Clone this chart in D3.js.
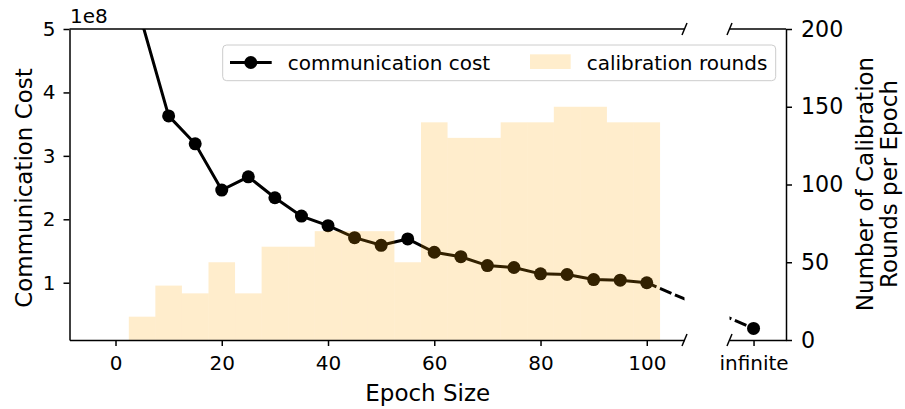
<!DOCTYPE html>
<html>
<head>
<meta charset="utf-8">
<script src="https://cdn.jsdelivr.net/npm/d3@7"></script>
<style>
    body { margin: 0; background: #fff; }
    svg, svg text { font-family: "DejaVu Sans", sans-serif; }
    .axis path, .axis line { stroke: #000; stroke-width: 1.5; }
    .axis text { fill: #000; font-family: "DejaVu Sans", sans-serif; }
</style>
</head>
<body>
<svg id="graph" width="905" height="409"></svg>
<script>

//data
const epochSizes = [5, 10, 15, 20, 25, 30, 35, 40, 45, 50, 55, 60, 65, 70, 75, 80, 85, 90, 95, 100];
const commCost = [5.1e8, 3.63e8, 3.19e8, 2.46e8, 2.67e8, 2.34e8, 2.05e8, 1.90e8, 1.71e8, 1.59e8,
                  1.69e8, 1.48e8, 1.41e8, 1.27e8, 1.24e8, 1.14e8, 1.13e8, 1.05e8, 1.04e8, 1.00e8];
const calibRounds = [15, 35, 30, 50, 30, 60, 60, 70, 70, 70, 50, 140, 130, 130, 140, 140, 150, 150, 140, 140];
const infiniteCost = 0.28e8;
const binWidth = 5;

const costTicks = [1e8, 2e8, 3e8, 4e8, 5e8];
const roundTicks = [0, 50, 100, 150, 200];
const epochTicks = [0, 20, 40, 60, 80, 100];
const infiniteLabel = "infinite";

//plot frame
let plotLeft = 69.5, breakL = 684.5, breakR = 729.5, plotRight = 786;
let plotTop = 29, plotBottom = 340;

let svg = d3.select("#graph");

let x = d3.scaleLinear().domain([-8.66, 107.1]).range([plotLeft, breakL]);
let xInf = d3.scaleLinear().domain([-1, 1.35]).range([breakR, plotRight]);
let yCost = d3.scaleLinear().domain([0.097e8, 5e8]).range([plotBottom, plotTop]);
let yRounds = d3.scaleLinear().domain([0, 200]).range([plotBottom, plotTop]);

//clip paths for the two halves of the broken axis
let defs = svg.append("defs");
defs.append("clipPath").attr("id", "clipLeft")
    .append("rect")
    .attr("x", plotLeft).attr("y", plotTop)
    .attr("width", breakL - plotLeft).attr("height", plotBottom - plotTop);

let both = defs.append("clipPath").attr("id", "clipBoth");
both.append("rect")
    .attr("x", plotLeft).attr("y", plotTop)
    .attr("width", breakL - plotLeft).attr("height", plotBottom - plotTop);
both.append("rect")
    .attr("x", breakR).attr("y", plotTop)
    .attr("width", plotRight - breakR).attr("height", plotBottom - plotTop);

drawCostLine();
drawRoundBars();
drawAxes();
drawLegend();
drawLabels();

function drawCostLine()
{
    let points = epochSizes.map((e, i) => [x(e), yCost(commCost[i])]);
    let lineGenerator = d3.line();

    let g = svg.append("g").attr("clip-path", "url(#clipLeft)");

    g.append("path")
    .attr("d", lineGenerator(points))
    .attr("fill", "none")
    .attr("stroke", "#000")
    .attr("stroke-width", 3);

    g.selectAll()
    .data(points)
    .enter()
    .append("circle")
    .attr("cx", d => d[0])
    .attr("cy", d => d[1])
    .attr("r", 6.5)
    .attr("fill", "#000");

    //dashed link from last epoch to the "infinite" point
    let last = epochSizes.length - 1;
    let link = [[x(epochSizes[last]), yCost(commCost[last])], [xInf(0), yCost(infiniteCost)]];

    svg.append("path")
    .attr("clip-path", "url(#clipBoth)")
    .attr("d", lineGenerator(link))
    .attr("fill", "none")
    .attr("stroke", "#000")
    .attr("stroke-width", 3)
    .attr("stroke-dasharray", "12.5,3.8")
    .attr("stroke-dashoffset", 2);

    svg.append("circle")
    .attr("cx", xInf(0))
    .attr("cy", yCost(infiniteCost))
    .attr("r", 6.5)
    .attr("fill", "#000");
}

function drawRoundBars()
{
    svg.append("g")
    .attr("clip-path", "url(#clipLeft)")
    .selectAll()
    .data(epochSizes)
    .enter()
    .append("rect")
    .attr("x", d => x(d - binWidth / 2))
    .attr("width", d => x(d + binWidth / 2) - x(d - binWidth / 2))
    .attr("y", (d, i) => yRounds(calibRounds[i]))
    .attr("height", (d, i) => plotBottom - yRounds(calibRounds[i]))
    .attr("fill", "#ffa500")
    .attr("fill-opacity", 0.2);
}

function styleAxis(g, size)
{
    g.attr("class", "axis")
    .attr("font-family", "DejaVu Sans, sans-serif")
    .attr("font-size", size);
}

function drawAxes()
{
    svg.append("g")
    .attr("transform", `translate(${plotLeft},0)`)
    .call(d3.axisLeft(yCost).tickValues(costTicks).tickSize(6).tickPadding(8).tickSizeOuter(0)
        .tickFormat(d => d / 1e8))
    .call(g => styleAxis(g, 20));

    svg.append("g")
    .attr("transform", `translate(0,${plotBottom})`)
    .call(d3.axisBottom(x).tickValues(epochTicks).tickSize(6).tickPadding(10).tickSizeOuter(0))
    .call(g => styleAxis(g, 20));

    svg.append("g")
    .attr("transform", `translate(0,${plotBottom})`)
    .call(d3.axisBottom(xInf).tickValues([0]).tickSize(6).tickPadding(10).tickSizeOuter(0)
        .tickFormat(() => infiniteLabel))
    .call(g => styleAxis(g, 20));

    svg.append("g")
    .attr("transform", `translate(${plotRight},0)`)
    .call(d3.axisRight(yRounds).tickValues(roundTicks).tickSize(6).tickPadding(9).tickSizeOuter(0))
    .call(g => styleAxis(g, 22.2));

    //top spines
    [[plotLeft, breakL], [breakR, plotRight]].forEach(s => {
        svg.append("line")
        .attr("x1", s[0]).attr("x2", s[1])
        .attr("y1", plotTop).attr("y2", plotTop)
        .attr("stroke", "#000")
        .attr("stroke-width", 1.5);
    });

    //break marks
    [breakL, breakR].forEach(bx => {
        [plotTop, plotBottom].forEach(by => {
            svg.append("line")
            .attr("x1", bx - 2.5).attr("y1", by + 6)
            .attr("x2", bx + 2.5).attr("y2", by - 6)
            .attr("stroke", "#000")
            .attr("stroke-width", 1.5);
        });
    });
}

function drawLegend()
{
    let g = svg.append("g");

    g.append("rect")
    .attr("x", 222.7).attr("y", 45)
    .attr("width", 553).attr("height", 35.7)
    .attr("rx", 4)
    .attr("fill", "#fff")
    .attr("fill-opacity", 0.8)
    .attr("stroke", "#ccc")
    .attr("stroke-width", 1);

    g.append("line")
    .attr("x1", 230).attr("x2", 271.7)
    .attr("y1", 62.5).attr("y2", 62.5)
    .attr("stroke", "#000")
    .attr("stroke-width", 3);

    g.append("circle")
    .attr("cx", 250.8).attr("cy", 62.5)
    .attr("r", 6.5)
    .attr("fill", "#000");

    g.append("text")
    .attr("x", 287.7).attr("y", 62.5)
    .attr("dy", "0.35em")
    .style("font-size", "20px")
    .text("communication cost");

    g.append("rect")
    .attr("x", 530).attr("y", 54.3)
    .attr("width", 40.7).attr("height", 14.7)
    .attr("fill", "#ffa500")
    .attr("fill-opacity", 0.2);

    g.append("text")
    .attr("x", 586.7).attr("y", 62.5)
    .attr("dy", "0.35em")
    .style("font-size", "20px")
    .text("calibration rounds");
}

function drawLabels()
{
    svg.append("text")
    .attr("x", 70).attr("y", 23)
    .style("font-size", "20px")
    .text("1e8");

    svg.append("text")
    .attr("x", (plotLeft + plotRight) / 2).attr("y", 400.5)
    .attr("text-anchor", "middle")
    .style("font-size", "23px")
    .text("Epoch Size");

    svg.append("text")
    .attr("transform", "translate(31.5,188) rotate(-90)")
    .attr("text-anchor", "middle")
    .style("font-size", "23px")
    .text("Communication Cost");

    svg.append("text")
    .attr("transform", "translate(873,184) rotate(-90)")
    .attr("text-anchor", "middle")
    .style("font-size", "23px")
    .text("Number of Calibration");

    svg.append("text")
    .attr("transform", "translate(897,184) rotate(-90)")
    .attr("text-anchor", "middle")
    .style("font-size", "23px")
    .text("Rounds per Epoch");
}

</script>
</body>
</html>
